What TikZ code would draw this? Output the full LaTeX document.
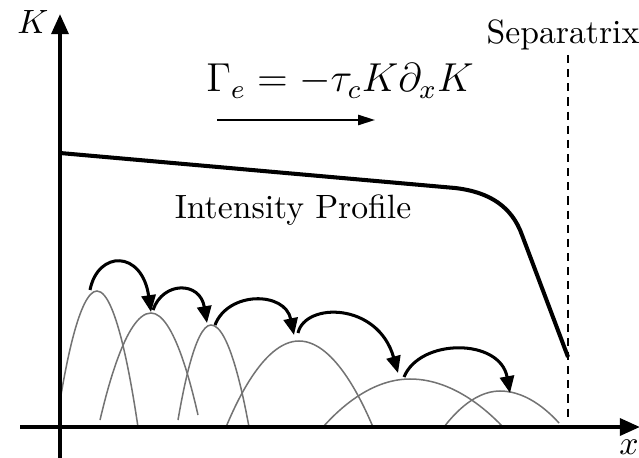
\documentclass[tikz,border=0pt]{standalone}
\usepackage{amsmath}
\usepackage{tikz}
\usetikzlibrary{arrows.meta}

\begin{document}
\begin{tikzpicture}[
      x=0.01044cm,y=0.01044cm,
      axis/.style={-{Triangle[length=6pt,width=5pt]},line width=1.2pt},
      profile/.style={line width=1.2pt,line join=round},
      blob/.style={draw=black!55,line width=.45pt},
      hop/.style={-{Triangle[length=5pt,width=4.2pt]},line width=.9pt},
      flow/.style={-{Triangle[length=5pt,width=3pt]},line width=.6pt},
      sepline/.style={line width=.7pt,dash pattern=on 2.4pt off 1.8pt}]
    \useasboundingbox (0,0) rectangle (639,457);

    \coordinate (o) at (60,30);
    \coordinate (xl) at (20,30);
    \coordinate (xr) at (640,30);
    \coordinate (yb) at (60,-5);
    \coordinate (yt) at (60,443);
    \coordinate (sepT) at (568,402);
    \coordinate (sepB) at (568,37);
    \coordinate (f0) at (217,337);
    \coordinate (f1) at (375,337);
    \coordinate (prof0) at (60,304);
    \coordinate (prof1) at (455,269);
    \coordinate (prof2) at (522,222);
    \coordinate (prof3) at (568,100);

    \coordinate (s1) at (90,167);  \coordinate (e1) at (151,145);
    \coordinate (s2) at (153,147); \coordinate (e2) at (207,134);
    \coordinate (s3) at (215,132); \coordinate (e3) at (294,122);
    \coordinate (s4) at (298,124); \coordinate (e4) at (398,84);
    \coordinate (s5) at (404,80);  \coordinate (e5) at (510,64);

    \node (klab) at (33,435) {$K$};
    \node (xlab) at (629,10) {$x$};
    \node (sep) at (563,422) {Separatrix};
    \node (flux) at (340,376) {\large $\Gamma_e=-\tau_c K\partial_x K$};
    \node (lbl) at (293,247) {Intensity Profile};

    \draw[blob] (61,62) parabola bend (97,166) (138,30);
    \draw[blob] (100,37) parabola bend (151,144) (198,42);
    \draw[blob] (178,37) parabola bend (211,132) (249,30);
    \draw[blob] (226,30) parabola bend (299,116) (373,30);
    \draw[blob] (323,30) parabola bend (410,78) (503,30);
    \draw[blob] (444,30) parabola bend (500,66) (559,34);

    \draw[axis] (xl) -- (xr);
    \draw[axis] (yb) -- (yt);
    \draw[sepline] (sepT) -- (sepB);
    \draw[flow] (f0) -- (f1);
    \draw[profile] (prof0) -- (prof1) .. controls (490,265) and (512,250) .. (prof2) -- (prof3);

    \draw[hop] (s1) .. controls +(8,40) and +(-9,62) .. (e1);
    \draw[hop] (s2) .. controls +(10,29) and +(-7,42) .. (e2);
    \draw[hop] (s3) .. controls +(13,34) and +(-9,44) .. (e3);
    \draw[hop] (s4) .. controls +(7,31) and +(-20,71) .. (e4);
    \draw[hop] (s5) .. controls +(16,39) and +(-10,55) .. (e5);
  \end{tikzpicture}
\end{document}
